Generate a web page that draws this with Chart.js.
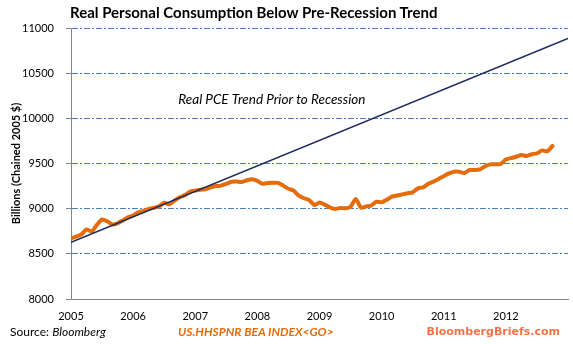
<!DOCTYPE html>
<html>
<head>
<meta charset="utf-8">
<script src="https://cdn.jsdelivr.net/npm/chart.js@4.4.1/dist/chart.umd.min.js"></script>
<style>
    html, body { margin: 0; padding: 0; background: #fff; }
    #wrap { position: relative; width: 573px; height: 344px; overflow: hidden; }
    #pceChart { position: absolute; left: 0; top: 0; }
    .txt { position: absolute; white-space: nowrap; font-family: Lato, "Open Sans", sans-serif; }
    #title { left: 70px; top: 3px; font-size: 15px; font-weight: bold; color: #000; }
    #source { left: 10px; top: 324px; font-size: 12px; color: #000; }
    #ticker { left: 178px; top: 324px; font-size: 12px; font-weight: bold; font-style: italic; color: #E46C0A; }
    #brand { right: 13px; top: 325px; font-family: "DejaVu Sans", sans-serif; font-size: 11px; font-weight: bold; color: #F07448; }
</style>
</head>
<body>
<div id="wrap">
    <canvas id="pceChart" width="573" height="344"></canvas>
    <div id="title" class="txt">Real Personal Consumption Below Pre-Recession Trend</div>
    <div id="source" class="txt">Source: <i>Bloomberg</i></div>
    <div id="ticker" class="txt">US.HHSPNR BEA INDEX&lt;GO&gt;</div>
    <div id="brand" class="txt">BloombergBriefs.com</div>
</div>
<script>
// Monthly real PCE, Jan 2005 .. Oct 2012 (billions, chained 2005 $)
const pceValues = [
    8672, 8690, 8715, 8770, 8748, 8820, 8880, 8860, 8825, 8838, 8870, 8905,
    8925, 8960, 8975, 8998, 9010, 9025, 9065, 9048, 9090, 9126, 9150, 9188,
    9200, 9210, 9215, 9235, 9250, 9255, 9275, 9298, 9300, 9296, 9315, 9325,
    9308, 9275, 9285, 9288, 9285, 9255, 9220, 9200, 9145, 9115, 9095, 9041,
    9068, 9045, 9015, 8996, 9008, 9004, 9022, 9107, 9011, 9025, 9035, 9077,
    9070, 9100, 9133, 9145, 9158, 9170, 9180, 9225, 9236, 9275, 9300, 9328,
    9360, 9390, 9409, 9408, 9395, 9428, 9428, 9435, 9470, 9490, 9491, 9495,
    9545, 9560, 9575, 9594, 9583, 9603, 9612, 9645, 9635, 9694
];

// Pre-recession trend line, endpoints (month index, value)
const trendMonths = [0, 96];
const trendValues = [8628, 10884];

const yearLabels = ['2005', '2006', '2007', '2008', '2009', '2010', '2011', '2012'];

const trendNote = 'Real PCE Trend Prior to Recession';

const baseFont = 'Lato, "Open Sans", sans-serif';

const notePlugin = {
    id: 'trendNote',
    afterDatasetsDraw(chart) {
        const { ctx, scales } = chart;
        ctx.save();
        ctx.font = 'italic 13.5px ' + baseFont;
        ctx.fillStyle = '#000';
        ctx.textAlign = 'center';
        ctx.textBaseline = 'middle';
        ctx.fillText(trendNote, scales.x.getPixelForValue(38.8), scales.y.getPixelForValue(10205));
        ctx.restore();
    }
};

const ctx = document.getElementById('pceChart').getContext('2d');

new Chart(ctx, {
    type: 'line',
    data: {
        datasets: [
            {
                label: 'Trend',
                data: trendMonths.map((m, i) => ({ x: m, y: trendValues[i] })),
                borderColor: '#1B2A5E',
                borderWidth: 1.6,
                pointRadius: 0,
                fill: false
            },
            {
                label: 'Real PCE',
                data: pceValues.map((v, i) => ({ x: i, y: v })),
                borderColor: '#E46C0A',
                borderWidth: 4,
                borderCapStyle: 'round',
                borderJoinStyle: 'round',
                tension: 0.2,
                pointRadius: 0,
                fill: false
            }
        ]
    },
    options: {
        responsive: false,
        animation: false,
        events: [],
        layout: { padding: { left: 0, right: 5, top: 28, bottom: 0 } },
        plugins: {
            legend: { display: false },
            tooltip: { enabled: false }
        },
        scales: {
            x: {
                type: 'linear',
                min: 0,
                max: 96,
                afterFit: scale => { scale.height = 45; },
                grid: { display: false },
                border: { display: true, color: '#868686', width: 1 },
                ticks: {
                    stepSize: 12,
                    autoSkip: false,
                    maxRotation: 0,
                    padding: 3,
                    color: '#000',
                    font: { family: baseFont, size: 11 },
                    callback: v => yearLabels[v / 12] || ''
                }
            },
            y: {
                min: 8000,
                max: 11000,
                afterFit: scale => { scale.width = 71; },
                grid: {
                    color: c => (c.tick && c.tick.value === 8000) ? 'rgba(0,0,0,0)' : '#4A7EBB',
                    tickColor: '#868686',
                    tickBorderDash: [],
                    tickLength: 5,
                    lineWidth: 1
                },
                border: { display: true, color: '#868686', width: 1, dash: [6, 2, 2, 2] },
                ticks: {
                    stepSize: 500,
                    padding: 12,
                    color: '#000',
                    font: { family: baseFont, size: 11 },
                    callback: v => String(v)
                },
                title: {
                    display: true,
                    text: 'Billions (Chained 2005 $)',
                    color: '#000',
                    font: { family: baseFont, size: 11, weight: 'bold' },
                    padding: { top: 10, bottom: 0 }
                }
            }
        }
    },
    plugins: [notePlugin]
});
</script>
</body>
</html>
